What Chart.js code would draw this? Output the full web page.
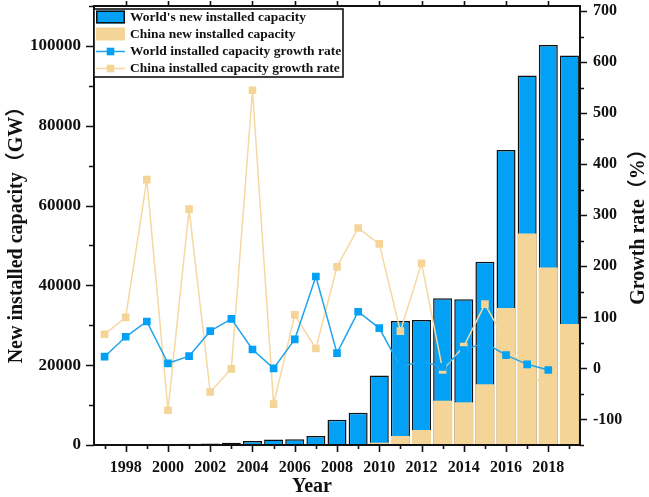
<!DOCTYPE html>
<html>
<head>
<meta charset="utf-8">
<script src="https://cdn.jsdelivr.net/npm/chart.js@4.4.0/dist/chart.umd.min.js"></script>
<style>
html,body{margin:0;padding:0;background:#ffffff;}
#wrap{width:649px;height:497px;position:relative;}
canvas{display:block;}
</style>
</head>
<body>
<div id="wrap"><canvas id="c" width="649" height="497"></canvas></div>
<script>
// ---------- data ----------
const years = [1997,1998,1999,2000,2001,2002,2003,2004,2005,2006,2007,2008,2009,2010,2011,2012,2013,2014,2015,2016,2017,2018,2019];
const worldNew = [100,150,200,250,300,400,550,1000,1400,1450,2250,6300,8100,17400,31100,31300,36800,36500,45900,73900,92600,100200,97600];
const chinaNew = [0,0,0,10,10,20,10,10,5,10,20,45,160,580,2250,3750,11100,10700,15200,34300,53000,44500,30300];
const worldGrowth = [23,62,92,10,24,73,97,37,0,57,180,30,111,79,3,14,3,36,50,26,8,-3,null];
const chinaGrowth = [67,100,370,-82,312,-46,-1,545,-70,105,39,199,275,244,73,206,-3,43,126,52,-12,-33,null];
const leftTickValues = [0,20000,40000,60000,80000,100000];
const rightTickValues = [-100,0,100,200,300,400,500,600,700];
const xLabelYears = [1998,2000,2002,2004,2006,2008,2010,2012,2014,2016,2018];
const legendLabels = ["World's new installed capacity","China new installed capacity","World installed capacity growth rate","China installed capacity growth rate"];
const axisTitles = {x:"Year", y:"New installed capacity（GW）", y1:"Growth rate（%）"};

// ---------- styles ----------
const SERIF = '"Liberation Serif", "Times New Roman", "Noto Sans CJK SC", serif';
const BLUE = '#02a1f6';
const BLUE_LINE = '#22a4ec';
const ORANGE = '#f5d597';
const ORANGE_LINE = '#f6d8a0';
const INK = '#111111';

function fixFit(w, h){
  return function(s){
    if (w != null) s.width = w;
    if (h != null) s.height = h;
    s.paddingTop = 0; s.paddingBottom = 0; s.paddingLeft = 0; s.paddingRight = 0;
  };
}

const framePlugin = {
  id: 'frameTicks',
  afterDraw(chart){
    const ctx = chart.ctx;
    const a = chart.chartArea;
    const xs = chart.scales.x, ys = chart.scales.y, y1 = chart.scales.y1;
    ctx.save();
    ctx.strokeStyle = INK;
    ctx.lineWidth = 2;
    ctx.strokeRect(a.left, a.top, a.right - a.left, a.bottom - a.top);
    ctx.lineWidth = 1.6;
    ctx.beginPath();
    years.forEach((yr, i) => {
      const x = Math.round(xs.getPixelForValue(i)) + 0.5;
      const major = xLabelYears.includes(yr);
      ctx.moveTo(x, a.bottom); ctx.lineTo(x, a.bottom + (major ? 7 : 4));
      if (major) { ctx.moveTo(x, a.top); ctx.lineTo(x, a.top - 5); }
    });
    for (let v = 0; v <= 110000; v += 10000) {
      const y = Math.round(ys.getPixelForValue(v)) + 0.5;
      const major = leftTickValues.includes(v);
      ctx.moveTo(a.left, y); ctx.lineTo(a.left - (major ? 8 : 5), y);
    }
    for (let v = -150; v <= 700; v += 50) {
      const y = Math.round(y1.getPixelForValue(v)) + 0.5;
      const major = rightTickValues.includes(v);
      ctx.moveTo(a.right, y); ctx.lineTo(a.right + (major ? 7 : 4), y);
    }
    ctx.stroke();

    ctx.fillStyle = INK;
    ctx.font = 'bold 20px ' + SERIF;
    ctx.textAlign = 'center';
    ctx.textBaseline = 'middle';
    ctx.fillText(axisTitles.x, 312, 487);
    ctx.save();
    ctx.translate(17, 230);
    ctx.rotate(-Math.PI / 2);
    ctx.fillText(axisTitles.y, 0, 0);
    ctx.restore();
    ctx.save();
    ctx.translate(639, 222);
    ctx.rotate(-Math.PI / 2);
    ctx.fillText(axisTitles.y1, 0, 0);
    ctx.restore();

    const lx = a.left, ly = 9, lw = 249, lh = 68;
    ctx.fillStyle = '#ffffff';
    ctx.fillRect(lx, ly, lw, lh);
    ctx.lineWidth = 1.6;
    ctx.strokeStyle = INK;
    ctx.strokeRect(lx, ly, lw, lh);
    const rowY = [17, 34, 51.5, 68.5];
    const sx0 = lx + 2, sx1 = lx + 31;
    ctx.fillStyle = BLUE;
    ctx.fillRect(sx0, rowY[0] - 6.5, sx1 - sx0, 13);
    ctx.lineWidth = 1.5;
    ctx.strokeRect(sx0 + 0.75, rowY[0] - 5.75, sx1 - sx0 - 1.5, 11.5);
    ctx.fillStyle = ORANGE;
    ctx.fillRect(sx0, rowY[1] - 6.5, sx1 - sx0, 13);
    [[BLUE_LINE, BLUE, rowY[2]], [ORANGE_LINE, ORANGE, rowY[3]]].forEach(([lc, mc, y]) => {
      ctx.strokeStyle = lc; ctx.lineWidth = 1.5;
      ctx.beginPath(); ctx.moveTo(sx0, y); ctx.lineTo(sx1, y); ctx.stroke();
      ctx.fillStyle = mc;
      ctx.fillRect((sx0 + sx1) / 2 - 3.8, y - 3.8, 7.6, 7.6);
    });
    ctx.fillStyle = INK;
    ctx.font = 'bold 13.5px ' + SERIF;
    ctx.textAlign = 'left';
    ctx.textBaseline = 'middle';
    legendLabels.forEach((t, i) => ctx.fillText(t, lx + 36, rowY[i] + 0.5));
    ctx.restore();
  }
};

const tickFont = {family: SERIF, weight: 'bold', size: 16};
const leftTickFont = {family: SERIF, weight: 'bold', size: 17};

new Chart(document.getElementById('c').getContext('2d'), {
  data: {
    labels: years.map(String),
    datasets: [
      {type: 'line', label: legendLabels[2], data: worldGrowth, yAxisID: 'y1', order: 0,
       borderColor: BLUE_LINE, backgroundColor: BLUE, borderWidth: 1.5,
       pointStyle: 'rect', pointRadius: 5.4, pointBorderWidth: 0, pointBackgroundColor: BLUE, tension: 0},
      {type: 'line', label: legendLabels[3], data: chinaGrowth, yAxisID: 'y1', order: 1,
       borderColor: ORANGE_LINE, backgroundColor: ORANGE, borderWidth: 1.5,
       pointStyle: 'rect', pointRadius: 5.4, pointBorderWidth: 0, pointBackgroundColor: ORANGE, tension: 0},
      {type: 'bar', label: legendLabels[1], data: chinaNew, yAxisID: 'y', order: 2, grouped: false,
       backgroundColor: ORANGE, borderWidth: 0, barPercentage: 0.9, categoryPercentage: 1.0},
      {type: 'bar', label: legendLabels[0], data: worldNew, yAxisID: 'y', order: 3, grouped: false,
       backgroundColor: BLUE, borderColor: INK, borderWidth: 1.5, barPercentage: 0.9, categoryPercentage: 1.0}
    ]
  },
  options: {
    responsive: false,
    animation: false,
    devicePixelRatio: 1,
    layout: {padding: {top: 6, left: 0, right: 0, bottom: 0}},
    plugins: {legend: {display: false}, tooltip: {enabled: false}, title: {display: false}},
    scales: {
      x: {
        type: 'category', offset: true,
        grid: {display: false, drawTicks: false},
        border: {display: false},
        ticks: {autoSkip: false, maxRotation: 0, minRotation: 0, padding: 13, color: INK, font: tickFont,
          callback: (v, i) => xLabelYears.includes(years[i]) ? String(years[i]) : ''},
        afterFit: fixFit(null, 52)
      },
      y: {
        type: 'linear', position: 'left', min: 0, max: 110000,
        grid: {display: false, drawTicks: false},
        border: {display: false},
        afterBuildTicks: s => { s.ticks = leftTickValues.map(v => ({value: v})); },
        ticks: {padding: 13, color: INK, font: leftTickFont, callback: v => String(v)},
        afterFit: fixFit(94, null)
      },
      y1: {
        type: 'linear', position: 'right', min: -150, max: 710,
        grid: {display: false, drawTicks: false},
        border: {display: false},
        afterBuildTicks: s => { s.ticks = rightTickValues.map(v => ({value: v})); },
        ticks: {padding: 13, color: INK, font: tickFont, callback: v => String(v)},
        afterFit: fixFit(69, null)
      }
    }
  },
  plugins: [framePlugin]
});
</script>
</body>
</html>
